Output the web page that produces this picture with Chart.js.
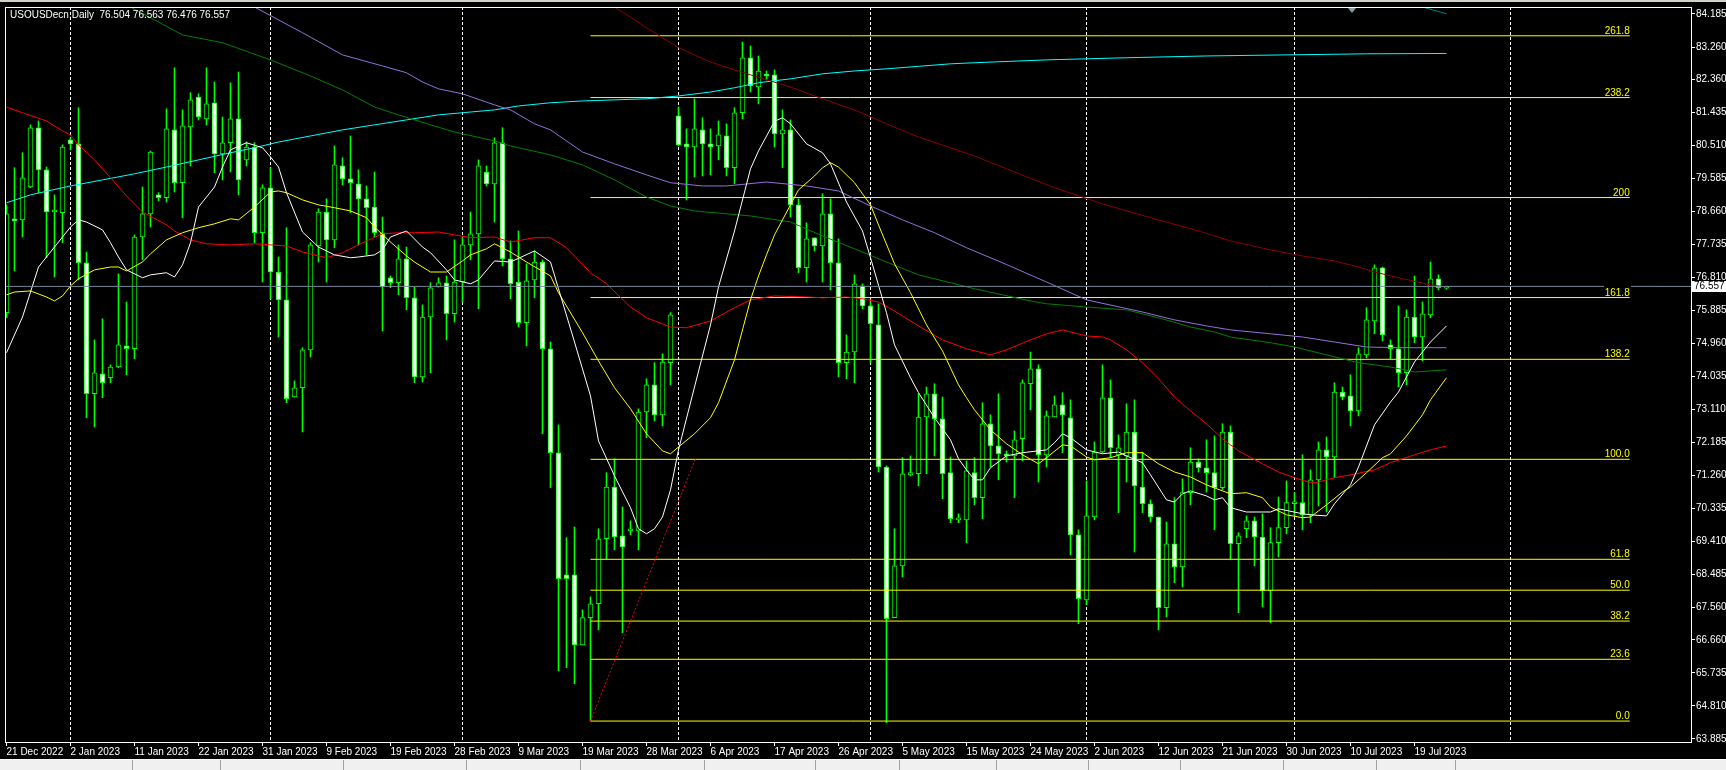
<!DOCTYPE html>
<html>
<head>
<meta charset="utf-8">
<title>USOUSDecn,Daily</title>
<script src="https://cdn.jsdelivr.net/npm/chart.js@4.4.1/dist/chart.umd.min.js"></script>
<style>
  html, body { margin:0; padding:0; background:#000; overflow:hidden; }
  #wrap { position:relative; width:1726px; height:770px; background:#000; }
  #c { position:absolute; left:0; top:0; }
  #topbar { position:absolute; left:0; top:0; width:1726px; height:2px; background:#d4d0c8; }
  #tabs { position:absolute; left:0; top:759px; width:1726px; height:11px; background:#f0f0f0; border-top:1px solid #ffffff; box-sizing:border-box; }
  .sep { position:absolute; top:0; width:1px; height:11px; background:#a0a0a0; }
</style>
</head>
<body>
<div id="wrap">
  <canvas id="c" width="1726" height="770"></canvas>
  <div id="topbar"></div>
  <div id="tabs"></div>
</div>
<script>
// ---------------- DATA ----------------
const symbolName = 'USOUSDecn,Daily';

const opens = [
75.82,78.45,78.42,79.34,81.00,79.82,78.64,78.62,80.66,80.55,
77.22,73.55,74.11,74.00,74.30,74.89,74.81,77.94,78.59,79.12,
79.04,80.94,79.46,81.02,81.86,81.25,81.70,80.27,80.58,81.25,
80.10,80.46,78.06,79.32,76.96,76.18,73.46,73.72,74.78,77.69,
78.64,77.86,79.93,79.57,79.43,79.01,78.78,78.06,76.80,76.66,
77.33,76.24,74.02,75.70,76.54,76.66,75.79,76.68,77.72,78.03,
79.76,79.43,80.58,77.33,76.68,75.54,76.74,77.24,74.81,71.90,
68.48,68.48,66.52,67.28,67.67,69.49,70.94,69.57,69.71,69.71,
73.04,73.80,72.96,74.42,81.33,80.55,80.46,80.94,80.55,80.49,
80.77,79.88,81.42,82.96,82.14,82.48,82.48,80.83,80.94,78.84,
77.08,77.92,77.69,78.59,77.22,74.42,74.72,76.57,76.01,75.48,
71.50,67.28,68.73,71.28,71.31,72.90,73.55,72.85,71.34,70.02,
70.02,71.34,70.64,72.71,72.09,71.87,71.81,72.29,73.83,74.25,
71.84,72.90,73.24,72.88,69.60,67.78,70.10,71.92,73.44,71.84,
71.81,72.48,70.94,70.47,70.10,67.56,69.35,68.70,70.78,71.64,
71.48,71.34,70.92,72.48,69.35,69.77,69.99,69.54,68.03,69.38,
69.80,70.47,70.50,70.16,71.14,71.98,71.78,73.60,73.49,73.07,
74.64,75.59,77.08,74.92,74.81,74.14,75.70,75.14,75.76,76.77,
76.504];

const highs = [
78.84,79.88,80.30,81.08,81.19,79.90,79.12,80.52,80.72,81.56,
77.52,75.06,75.65,74.36,76.91,76.12,78.00,79.34,80.35,79.18,
81.53,82.68,81.50,81.98,81.95,82.68,82.28,81.30,82.26,82.56,
80.60,80.58,79.40,79.88,77.38,78.20,73.91,74.84,77.78,78.73,
79.01,80.49,80.16,80.77,79.82,79.37,79.76,78.50,76.85,77.72,
77.66,76.54,76.04,76.66,76.80,76.85,77.86,77.94,78.64,80.10,
79.93,80.72,81.00,77.83,78.11,77.19,77.55,77.30,75.00,72.68,
69.52,69.82,67.50,67.86,69.77,71.34,71.73,70.38,69.99,73.13,
73.97,74.42,74.67,75.82,81.58,80.97,81.81,81.28,80.97,81.19,
81.11,81.56,83.40,83.29,83.01,82.59,82.62,81.50,81.22,79.01,
78.34,77.92,79.15,79.01,77.89,75.20,76.88,76.63,76.18,76.07,
71.53,69.77,71.76,71.81,73.55,73.74,73.83,73.46,71.78,70.19,
71.67,71.76,73.30,72.96,73.55,71.95,72.51,73.94,74.72,74.36,
73.07,73.49,73.58,73.38,69.74,71.11,72.20,74.36,73.94,72.40,
73.27,73.38,71.92,70.58,70.10,69.96,70.64,71.17,72.04,71.73,
72.26,72.37,72.71,72.65,69.66,70.13,70.10,70.19,69.80,70.66,
71.11,70.78,71.84,71.42,72.20,72.34,73.86,73.74,74.08,74.84,
75.96,77.16,77.10,75.06,76.01,75.90,76.85,76.12,77.24,76.88,
76.563];

const lows = [
75.68,76.99,77.94,79.32,79.18,77.36,76.82,77.78,80.38,76.74,
72.88,72.62,73.44,73.86,74.28,74.08,74.53,77.30,78.22,78.95,
78.92,79.20,78.48,79.93,81.22,81.08,79.74,79.54,79.76,79.12,
79.93,77.78,76.68,76.21,75.14,73.30,73.46,72.48,74.58,77.24,
76.68,77.64,79.40,78.62,77.72,77.44,77.94,75.31,76.52,76.32,
75.90,73.86,73.88,74.14,76.54,75.06,75.56,76.12,77.30,75.93,
79.37,78.36,77.13,76.21,75.42,74.89,76.24,72.43,70.92,65.79,
65.88,65.43,66.52,64.39,66.94,68.93,69.18,66.86,69.60,69.18,
72.32,72.79,72.65,73.80,80.49,78.98,79.62,79.65,79.68,80.10,
79.65,79.43,81.25,82.00,81.67,82.34,80.46,79.88,78.50,76.94,
76.68,77.55,76.68,76.46,74.02,73.97,73.86,75.93,74.42,71.36,
64.34,67.28,68.42,71.25,70.97,71.31,71.81,70.61,69.94,69.94,
69.38,70.44,70.05,71.50,71.14,71.64,70.64,71.67,73.10,71.08,
71.50,72.90,71.90,69.04,67.11,67.64,70.02,71.90,71.78,70.22,
71.08,69.12,70.22,69.96,66.94,67.30,68.26,68.14,70.44,71.36,
70.80,69.74,70.86,68.93,67.42,69.52,68.73,67.58,67.14,68.98,
69.63,70.13,69.74,69.94,70.41,70.24,71.20,73.38,72.65,72.93,
74.56,75.23,75.03,74.53,73.74,73.80,74.98,74.47,75.68,76.46,
76.476];

const closes = [
78.59,78.39,79.60,81.00,79.82,78.64,78.67,80.46,80.55,77.22,
73.55,74.14,73.86,74.30,74.92,74.81,77.94,78.59,80.32,79.04,
80.97,79.46,81.05,81.78,81.30,81.67,80.27,80.58,81.25,79.54,
80.46,78.06,79.32,76.96,76.18,73.41,73.72,74.78,77.72,78.64,
77.86,79.96,79.57,79.46,79.01,78.76,78.06,76.54,76.66,77.33,
76.24,74.02,75.70,76.52,76.66,75.79,76.68,77.72,78.03,79.93,
79.43,80.58,77.33,76.63,75.54,76.71,77.24,74.81,71.90,68.37,
68.37,66.52,67.28,67.67,69.49,70.94,69.54,69.26,69.77,73.04,
73.80,72.96,74.44,75.76,80.52,80.46,80.97,80.55,80.46,80.80,
79.88,81.42,82.96,82.17,82.59,82.45,80.83,80.94,78.84,77.08,
77.89,77.69,78.59,77.22,74.42,74.72,76.63,76.01,75.51,71.50,
67.25,68.73,71.31,71.34,72.90,73.55,72.85,71.31,70.05,70.02,
71.39,70.64,72.71,72.09,71.87,71.81,72.26,73.86,74.25,71.84,
72.93,73.24,72.96,69.60,67.81,70.13,71.92,73.44,72.04,72.04,
72.48,70.97,70.47,70.10,67.56,69.35,68.70,70.78,71.64,71.48,
71.34,70.92,72.48,69.35,69.57,69.99,69.54,68.03,69.38,69.80,
70.50,70.47,70.16,71.14,71.98,71.78,73.60,73.46,73.07,74.67,
75.62,77.08,75.20,74.81,74.14,75.70,75.14,75.79,76.77,76.52,
76.557];

// Moving averages (bar index, price)
const maWhiteBars = [0,2,4,6,8,9,10,12,13,14,15,17,18,20,21,22,23,24,26,27,28,30,32,33,34,35,37,39,41,43,44,46,47,48,50,52,53,55,56,58,59,61,63,66,68,69,71,73,74,76,78,79,80,81,82,83,84,86,88,89,91,93,94,96,97,98,100,102,103,105,107,108,110,111,113,114,116,118,119,120,121,122,123,125,127,130,131,132,133,135,137,139,140,142,143,145,146,147,148,150,151,152,153,155,158,159,162,163,165,166,168,169,171,173,174,176,178,180];
const maWhite = [74.70,75.70,77.10,77.66,78.22,78.42,78.36,78.14,77.78,77.38,77.02,76.80,76.88,76.94,76.82,77.16,77.78,78.78,79.34,79.90,80.38,80.58,80.44,80.18,79.90,79.18,78.08,77.66,77.44,77.36,77.38,77.44,77.58,77.94,78.11,77.66,77.50,77.02,76.74,76.63,76.74,77.27,77.24,77.55,77.24,76.49,75.00,73.49,72.23,71.25,70.36,69.77,69.63,69.77,70.10,70.86,71.98,73.74,75.48,76.54,78.11,79.85,80.35,81.18,81.28,81.11,80.55,80.30,79.99,78.92,78.11,77.36,75.82,74.92,74.00,73.58,72.88,72.26,71.73,71.42,71.14,71.14,71.48,71.81,71.90,71.98,72.18,72.43,72.32,71.98,71.87,71.92,71.81,71.62,71.28,70.58,70.52,70.75,70.83,70.69,70.58,70.64,70.36,70.24,70.24,70.33,70.19,70.16,70.13,70.47,71.00,71.50,72.68,73.32,73.60,74.44,75.00,75.45];

const maYellowBars = [0,1,3,5,6,7,8,9,11,13,14,15,17,18,20,22,24,26,28,29,31,33,34,35,37,39,41,43,45,46,48,50,51,53,55,57,58,60,61,63,65,68,69,72,74,76,78,80,82,83,84,86,88,89,91,93,94,95,96,98,99,101,102,103,104,106,108,109,111,113,115,117,119,120,121,123,125,127,129,130,132,133,135,136,138,140,142,144,146,148,150,152,153,155,157,158,160,162,163,165,167,168,170,172,173,175,177,178,180];
const maYellow = [76.32,76.40,76.43,76.26,76.15,76.29,76.57,76.77,77.02,77.10,77.10,76.99,77.24,77.47,77.86,78.06,78.20,78.31,78.45,78.42,78.78,79.20,79.23,79.18,78.98,78.84,78.76,78.67,78.48,78.22,77.80,77.41,77.24,76.96,76.96,77.27,77.44,77.61,77.75,77.52,77.24,76.85,76.38,75.26,74.47,73.72,73.13,72.43,71.95,71.87,72.06,72.43,72.88,73.30,74.50,76.18,76.85,77.44,78.00,78.84,79.26,79.65,79.88,80.02,79.90,79.46,78.84,78.28,77.19,76.38,75.48,74.75,73.80,73.44,73.10,72.54,72.15,71.84,71.59,71.76,72.12,72.09,71.78,71.70,71.76,71.90,71.90,71.59,71.36,71.22,71.00,70.83,70.75,70.78,70.64,70.38,70.16,70.08,70.10,70.44,70.80,70.94,71.34,71.76,71.87,72.37,72.96,73.38,74.00];

const maRedBars = [0,2,5,7,8,9,11,13,15,17,20,21,23,25,28,31,35,37,40,42,45,47,49,51,54,56,58,61,63,66,68,70,73,75,78,80,83,85,88,91,93,96,100,102,105,107,109,111,114,117,120,123,125,128,130,132,133,135,137,138,140,142,144,146,148,150,152,154,157,159,161,163,164,166,168,171,173,176,178,180];
const maRed = [81.58,81.42,81.19,80.91,80.80,80.52,80.10,79.60,79.09,78.64,78.28,78.11,77.86,77.75,77.72,77.75,77.69,77.52,77.36,77.50,77.83,78.03,78.06,78.06,78.08,78.00,77.92,77.94,77.80,77.92,77.92,77.64,76.94,76.63,75.98,75.68,75.42,75.40,75.59,75.96,76.18,76.29,76.26,76.24,76.26,76.21,76.12,75.87,75.45,75.06,74.81,74.64,74.78,75.06,75.23,75.34,75.28,75.17,75.14,75.06,74.78,74.42,73.97,73.46,73.07,72.71,72.29,71.95,71.59,71.36,71.20,71.06,71.08,71.20,71.28,71.42,71.62,71.84,71.98,72.09];

const maMaroonBars = [75,76,78,80,84,88,91,93,98,102,106,110,114,118,121,126,131,137,143,149,153,158,162,166,169,171,174,178,180];
const maMaroon = [84.58,84.38,84.10,83.80,83.24,82.84,82.62,82.48,82.14,81.81,81.50,81.11,80.74,80.44,80.21,79.76,79.32,78.87,78.48,78.11,77.83,77.58,77.41,77.27,77.10,76.96,76.80,76.60,76.54];

const maGreenBars = [15,22,27,33,38,42,46,49,53,56,61,63,68,72,76,80,83,86,90,93,98,102,106,110,114,118,121,128,130,135,140,144,148,151,153,158,161,165,169,171,173,176,180];
const maGreen = [84.44,83.60,83.38,82.90,82.45,82.06,81.58,81.36,81.08,80.88,80.63,80.49,80.24,79.96,79.54,79.06,78.81,78.67,78.59,78.53,78.36,77.97,77.61,77.24,76.88,76.66,76.49,76.15,76.07,75.98,75.90,75.68,75.42,75.28,75.14,74.98,74.86,74.64,74.42,74.36,74.30,74.16,74.22];

const maPurpleBars = [30,31,37,42,47,50,52,54,57,61,63,66,68,72,76,80,83,87,90,95,100,104,108,112,116,120,125,130,135,142,146,150,153,158,162,166,170,174,180];
const maPurple = [84.47,84.38,83.66,83.04,82.73,82.54,82.28,82.09,81.95,81.64,81.50,81.11,80.94,80.32,79.99,79.68,79.46,79.37,79.37,79.48,79.37,79.23,78.81,78.42,78.06,77.64,77.17,76.68,76.18,75.84,75.62,75.45,75.34,75.23,75.14,75.00,74.86,74.84,74.84];

const maCyanBars = [0,3,8,12,16,20,24,28,31,34,38,42,46,50,54,58,61,64,68,72,76,80,84,88,91,94,98,102,106,110,114,118,121,130,140,150,160,170,180];
const maCyan = [78.90,79.12,79.37,79.54,79.71,79.90,80.10,80.30,80.44,80.60,80.77,80.94,81.08,81.22,81.36,81.44,81.50,81.61,81.70,81.75,81.78,81.81,81.89,82.00,82.12,82.26,82.37,82.51,82.59,82.65,82.72,82.79,82.82,82.90,82.96,83.01,83.04,83.07,83.08];

const maTealBars = [174,177,180];
const maTeal = [84.58,84.38,84.19];

// Fibonacci retracement object
const fibLabels = ['0.0','23.6','38.2','50.0','61.8','100.0','138.2','161.8','200','238.2','261.8'];
const fibPrices = [64.385,66.115,67.185,68.050,68.915,71.715,74.515,76.245,79.045,81.845,83.575];
const fibStartBar = 73;
const fibEndBar = 202.9;
const fibAnchorBars = [73, 86.1];
const fibAnchorPrices = [64.385, 71.715];

// Axes
const dateTickBars = [0,8,16,24,32,40,48,56,64,72,80,88,96,104,112,120,128,136,144,152,160,168,176];
const dateLabels = ['21 Dec 2022','2 Jan 2023','11 Jan 2023','22 Jan 2023','31 Jan 2023','9 Feb 2023','19 Feb 2023','28 Feb 2023','9 Mar 2023','19 Mar 2023','28 Mar 2023','6 Apr 2023','17 Apr 2023','26 Apr 2023','5 May 2023','15 May 2023','24 May 2023','2 Jun 2023','12 Jun 2023','21 Jun 2023','30 Jun 2023','10 Jul 2023','19 Jul 2023'];
const monthBars = [8,33,57,84,108,135,161,188];
const priceTicks = [84.185,83.260,82.360,81.435,80.510,79.585,78.660,77.735,76.810,75.885,74.960,74.035,73.110,72.185,71.260,70.335,69.410,68.485,67.560,66.660,65.735,64.810,63.885];
const shiftMarkerBar = 168.2;

// ---------------- CHART ----------------
const X_MIN = -0.1875, X_MAX = 210.5625;
const Y_MIN = 63.799, Y_MAX = 84.381;
const FONT = '"Liberation Sans", Arial, sans-serif';
const lastIdx = closes.length - 1;
const lastClose = closes[lastIdx];

const barIdx = opens.map((_, i) => i);
const wickData = barIdx.map(i => ({ x: i, y: [lows[i], highs[i]] }));
const bodyData = barIdx.map(i => ({ x: i, y: [opens[i], closes[i]] }));
const bodyFill = barIdx.map(i => closes[i] >= opens[i] ? '#000000' : '#ffffff');

function lineSet(label, bars, vals, color, order, extra) {
  return Object.assign({
    type: 'line', label,
    data: bars.map((b, k) => ({ x: b, y: vals[k] })),
    borderColor: color, borderWidth: 1, pointRadius: 0, pointHoverRadius: 0,
    fill: false, tension: 0, order
  }, extra || {});
}

const datasets = [
  { type: 'bar', label: 'wicks', data: wickData, backgroundColor: '#00ff00', borderWidth: 0,
    barThickness: 1, grouped: false, order: 40 },
  { type: 'bar', label: 'bodies', data: bodyData, backgroundColor: bodyFill, borderColor: '#00ff00',
    borderWidth: 1, borderSkipped: false, barThickness: 5, grouped: false, minBarLength: 2, order: 39 }
];
fibPrices.forEach((p, k) => {
  datasets.push(lineSet('fib ' + fibLabels[k], [fibStartBar, fibEndBar], [p, p], '#ffff00', 30));
});
datasets.push(lineSet('MA cyan', maCyanBars, maCyan, '#00ffff', 20));
datasets.push(lineSet('MA purple', maPurpleBars, maPurple, '#9370db', 19));
datasets.push(lineSet('MA green', maGreenBars, maGreen, '#008000', 18));
datasets.push(lineSet('MA maroon', maMaroonBars, maMaroon, '#8b0000', 17));
datasets.push(lineSet('MA teal', maTealBars, maTeal, '#008080', 16));
datasets.push(lineSet('MA red', maRedBars, maRed, '#ff0000', 15));
datasets.push(lineSet('MA yellow', maYellowBars, maYellow, '#ffff00', 14));
datasets.push(lineSet('MA white', maWhiteBars, maWhite, '#ffffff', 13));
datasets.push(lineSet('bid', [X_MIN, X_MAX], [lastClose, lastClose], '#778899', 6));
datasets.push(lineSet('fib trend', fibAnchorBars, fibAnchorPrices, '#ff0000', 5, { borderDash: [2, 2] }));

const decorPlugin = {
  id: 'decor',
  afterDatasetsDraw(chart) {
    const { ctx, scales } = chart;
    const xs = scales.x, ys = scales.y;
    ctx.save();
    ctx.font = '10px ' + FONT;
    ctx.textAlign = 'right';
    ctx.textBaseline = 'alphabetic';
    const xr = xs.getPixelForValue(fibEndBar);
    fibPrices.forEach((p, k) => {
      const yy = ys.getPixelForValue(p);
      const w = ctx.measureText(fibLabels[k]).width;
      ctx.fillStyle = '#000000';
      ctx.fillRect(Math.round(xr - w - 1), Math.round(yy - 13), Math.ceil(w) + 1, 12);
      ctx.fillStyle = '#ffff00';
      ctx.fillText(fibLabels[k], xr, Math.round(yy - 2));
    });
    ctx.restore();
  },
  afterDraw(chart) {
    const { ctx, chartArea: ca, scales } = chart;
    const ys = scales.y, xs = scales.x;
    ctx.save();
    // frame
    ctx.strokeStyle = '#ffffff';
    ctx.lineWidth = 1;
    ctx.strokeRect(ca.left + 0.5, ca.top + 0.5, ca.right - ca.left, ca.bottom - ca.top);
    // title
    ctx.font = '10px ' + FONT;
    ctx.fillStyle = '#ffffff';
    ctx.textAlign = 'left';
    ctx.textBaseline = 'middle';
    const title = symbolName + '  ' + opens[lastIdx].toFixed(3) + ' ' + highs[lastIdx].toFixed(3) + ' ' +
                  lows[lastIdx].toFixed(3) + ' ' + closes[lastIdx].toFixed(3);
    ctx.fillText(title, 10, 15);
    // chart shift marker
    const sx = Math.round(xs.getPixelForValue(shiftMarkerBar));
    ctx.fillStyle = '#8a9aa8';
    ctx.beginPath();
    ctx.moveTo(sx - 4, ca.top + 1);
    ctx.lineTo(sx + 4, ca.top + 1);
    ctx.lineTo(sx, ca.top + 6);
    ctx.closePath();
    ctx.fill();
    // current price box
    const py = ys.getPixelForValue(lastClose);
    ctx.fillStyle = '#ffffff';
    ctx.fillRect(ca.right + 1, Math.round(py - 5), 34, 11);
    ctx.fillStyle = '#000000';
    ctx.fillText(lastClose.toFixed(3), ca.right + 3, Math.round(py) + 0.5);
    ctx.restore();
  }
};

new Chart(document.getElementById('c'), {
  type: 'bar',
  data: { datasets },
  options: {
    responsive: false,
    animation: false,
    devicePixelRatio: 1,
    layout: { padding: { left: 5, top: 7, right: 0, bottom: 13 } },
    plugins: { legend: { display: false }, tooltip: { enabled: false } },
    events: [],
    scales: {
      x: {
        type: 'linear', position: 'bottom', min: X_MIN, max: X_MAX, offset: false,
        afterBuildTicks: s => { s.ticks = dateTickBars.map(v => ({ value: v })); },
        afterFit: s => { s.height = 15; },
        ticks: {
          autoSkip: false, maxRotation: 0, minRotation: 0, align: 'start', padding: 0,
          color: '#ffffff', font: { family: FONT, size: 10 },
          callback: v => { const k = dateTickBars.indexOf(v); return k >= 0 ? dateLabels[k] : ''; }
        },
        grid: { offset: false, drawOnChartArea: false, drawTicks: true, tickLength: 4, tickColor: '#ffffff', color: '#ffffff' },
        border: { display: false }
      },
      xm: {
        type: 'linear', position: 'bottom', min: X_MIN, max: X_MAX, offset: false, display: true,
        afterBuildTicks: s => { s.ticks = monthBars.map(v => ({ value: v })); },
        afterFit: s => { s.height = 0; },
        ticks: { display: false },
        grid: { offset: false, drawOnChartArea: true, drawTicks: false, color: '#ffffff', lineWidth: 1 },
        border: { display: false, dash: [3, 2] }
      },
      y: {
        type: 'linear', position: 'right', min: Y_MIN, max: Y_MAX,
        afterBuildTicks: s => { s.ticks = priceTicks.map(v => ({ value: v })); },
        afterFit: s => { s.width = 35; },
        ticks: { color: '#ffffff', font: { family: FONT, size: 10 }, padding: 1,
                 callback: v => Number(v).toFixed(3) },
        grid: { drawOnChartArea: false, drawTicks: true, tickLength: 4, tickColor: '#ffffff' },
        border: { display: false }
      }
    }
  },
  plugins: [decorPlugin]
});

// bottom tab strip separators
const tabSeps = [132, 220, 343, 466, 580, 704, 815, 899, 996, 1088, 1180, 1283, 1376, 1455];
const tabs = document.getElementById('tabs');
tabSeps.forEach(x => { const d = document.createElement('div'); d.className = 'sep'; d.style.left = x + 'px'; tabs.appendChild(d); });
</script>
</body>
</html>
